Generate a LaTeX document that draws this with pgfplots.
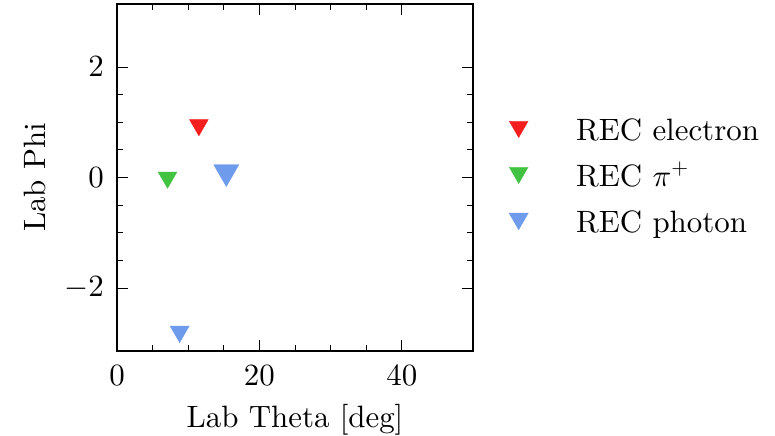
\documentclass[border=0pt]{standalone}
\usepackage{fontspec}
\setmainfont{lmroman10-regular.otf}
\DeclareFontShape{OT1}{cmr}{m}{n}{<->cmr10}{}
\DeclareFontShape{OML}{cmm}{m}{it}{<->cmmi10}{}
\DeclareFontShape{OMS}{cmsy}{m}{n}{<->cmsy10}{}
\usepackage{pgfplots}
\pgfplotsset{compat=1.18}
\definecolor{cred}{RGB}{245,30,30}
\definecolor{cgreen}{RGB}{65,195,65}
\definecolor{cblue}{RGB}{110,155,235}
\begin{document}
\begin{tikzpicture}
\begin{axis}[
  scale only axis,
  width=356bp, height=347bp,
  xmin=0, xmax=50,
  ymin=-3.14159, ymax=3.14159,
  xtick={0,20,40}, ytick={-2,0,2},
  minor x tick num=3, minor y tick num=3,
  tick align=inside, tick pos=both,
  major tick length=11bp, minor tick length=6bp,
  every tick/.style={black, line width=0.8bp},
  axis line style={black, line width=1.3bp},
  font=\fontsize{31}{37}\selectfont,
  xticklabel style={anchor=base, yshift=-34bp},
  yticklabel style={anchor=east, inner sep=0pt, xshift=-13bp},
  xlabel={Lab Theta [deg]},
  ylabel={Lab Phi},
  xlabel style={at={(axis description cs:0.5,-0.2219)}, anchor=base},
  ylabel style={at={(axis description cs:-0.2022,0.5)}, anchor=base},
  legend cell align=left,
  legend image code/.code={\draw[#1] plot coordinates {(0bp,13.5bp)};},
  legend style={at={(1.101,0.683)}, anchor=north west, draw=none, fill=none,
    inner sep=0pt, row sep=12bp,
    nodes={inner sep=0pt, text height=26bp, text depth=8bp, anchor=base west},
    /tikz/every odd column/.append style={column sep=48bp}},
]
\addplot[only marks, mark=triangle*, mark size=10.8bp, mark options={rotate=180, fill=cred, draw=cred}]
  coordinates {(11.5,0.95)};
\addlegendentry{REC electron}
\addplot[only marks, mark=triangle*, mark size=10.8bp, mark options={rotate=180, fill=cgreen, draw=cgreen}]
  coordinates {(7.1,0.0)};
\addlegendentry{REC $\pi^+$}
\addplot[only marks, mark=triangle*, mark size=11bp, mark options={rotate=180, fill=cblue, draw=cblue}]
  coordinates {(8.8,-2.79)};
\addlegendentry{REC photon}
\addplot[only marks, mark=triangle*, mark size=14.5bp, mark options={rotate=180, fill=cblue, draw=cblue}, forget plot]
  coordinates {(15.35,0.10)};
\end{axis}
\pgfresetboundingbox
\path ([shift={(-117bp,-85bp)}]current axis.south west) rectangle ([shift={(658bp,351bp)}]current axis.south west);
\end{tikzpicture}
\end{document}
